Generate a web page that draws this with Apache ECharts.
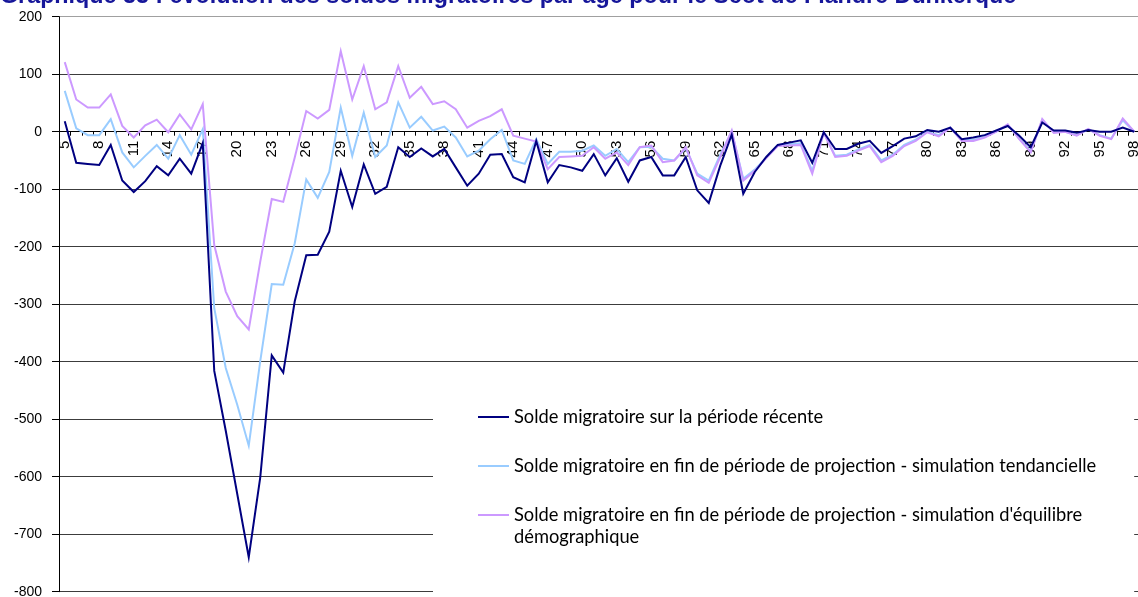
<!DOCTYPE html>
<html>
<head>
<meta charset="utf-8">
<script src="https://cdn.jsdelivr.net/npm/echarts@6/dist/echarts.min.js"></script>
<style>
  html, body { margin: 0; padding: 0; background: #ffffff; }
  #chart { width: 1138px; height: 597px; }
</style>
</head>
<body>
<div id="chart"></div>
<script>
// Title and series names
const TITLE = 'Graphique 33 : évolution des soldes migratoires par âge pour le Scot de Flandre Dunkerque';
const NAME_RECENT = 'Solde migratoire sur la période récente';
const NAME_TREND = 'Solde migratoire en fin de période de projection - simulation tendancielle';
const NAME_BALANCE = "Solde migratoire en fin de période de projection - simulation d'équilibre démographique";

// Ages (category axis)
const AGES = ['5','6','7','8','9','10','11','12','13','14','15','16','17','18','19','20','21','22','23','24',
  '25','26','27','28','29','30','31','32','33','34','35','36','37','38','39','40','41','42','43','44',
  '45','46','47','48','49','50','51','52','53','54','55','56','57','58','59','60','61','62','63','64',
  '65','66','67','68','69','70','71','72','73','74','75','76','77','78','79','80','81','82','83','84',
  '85','86','87','88','89','90','91','92','93','94','95','96','97','98'];

// Ages printed under the zero line
const AGE_LABELS = ['5','8','11','14','17','20','23','26','29','32','35','38','41','44','47','50',
  '53','56','59','62','65','68','71','74','77','80','83','86','89','92','95','98'];

// Migration balance, recent period
const RECENT = [18,-54,-56,-58,-23,-85,-105,-86,-60,-76,-47,-73,-20,-416,-520,-630,-740,-601,-389,-419,
  -295,-215,-214,-174,-68,-131,-57,-108,-96,-27,-44,-29,-43,-30,-62,-94,-73,-40,-39,-79,
  -88,-16,-88,-58,-62,-68,-39,-76,-46,-87,-50,-44,-76,-76,-44,-102,-124,-59,-5,-108,
  -70,-44,-23,-19,-15,-54,-1,-30,-30,-21,-16,-37,-25,-12,-8,3,0,7,-13,-10,
  -6,2,10,-7,-27,16,2,2,-2,3,0,0,7,0];

// Migration balance at end of projection, trend scenario
const TREND = [71,6,-6,-6,22,-36,-62,-42,-23,-47,-6,-40,4,-307,-411,-475,-546,-399,-265,-266,
  -194,-83,-115,-70,42,-42,33,-44,-24,51,7,26,2,9,-10,-43,-33,-13,3,-50,
  -56,-13,-56,-35,-35,-33,-24,-42,-30,-53,-27,-26,-47,-50,-29,-73,-85,-40,0,-82,
  -66,-45,-24,-22,-20,-68,-2,-42,-40,-31,-23,-50,-40,-23,-14,0,-6,7,-15,-14,
  -9,0,12,-12,-34,20,-1,0,-6,4,-6,-12,20,0];

// Migration balance at end of projection, demographic balance scenario
const BALANCE = [121,56,42,42,65,10,-10,11,21,-1,30,4,48,-197,-278,-321,-344,-226,-117,-122,
  -45,36,23,38,140,56,114,39,51,114,59,78,48,53,39,7,19,27,39,-7,
  -12,-17,-65,-44,-43,-42,-27,-47,-36,-58,-27,-24,-53,-50,-27,-76,-89,-44,2,-85,
  -68,-46,-25,-24,-23,-73,-2,-44,-42,-33,-25,-53,-42,-25,-16,-1,-8,7,-16,-16,
  -10,0,13,-13,-36,22,-2,0,-7,5,-7,-13,23,0];

// Value axis range
const Y_MIN = -800;
const Y_MAX = 200;
const Y_STEP = 100;

const COLOR_RECENT = '#000080';
const COLOR_TREND = '#99CCFF';
const COLOR_BALANCE = '#CC99FF';

const FONT_AXIS = '"Liberation Sans", Arial, sans-serif';
const FONT_LEGEND = 'Lato, "Open Sans", sans-serif';

// plot area in pixels
const GRID_LEFT = 59;
const GRID_RIGHT = -2;
const GRID_TOP = 16.7;
const GRID_BOTTOM = 5.3;
const CHART_H = 597;
const plotH = CHART_H - GRID_TOP - GRID_BOTTOM;
// height of the band above the zero line: the age axis is drawn along its bottom edge
const aboveZeroH = plotH * (Y_MAX - 0) / (Y_MAX - Y_MIN);

// one colour per horizontal grid line, bottom to top; the top border is lighter
const gridColors = [];
for (let v = Y_MIN; v <= Y_MAX; v += Y_STEP) gridColors.push(v === Y_MAX ? '#a0a0a0' : '#3c3c3c');

const chart = echarts.init(document.getElementById('chart'), null, { renderer: 'canvas' });

function lineSeries(name, data, color, z) {
  return {
    name: name,
    type: 'line',
    xAxisIndex: 0,
    yAxisIndex: 0,
    data: data,
    symbol: 'none',
    z: z,
    lineStyle: { color: color, width: 2, join: 'miter' },
    itemStyle: { color: color },
    emphasis: { disabled: true },
    animation: false
  };
}

// legend labels: a blank line above (and below) keeps each label's first line level with its key
function legendLabel(name) {
  if (name === NAME_BALANCE) {
    return ' \n' + name.replace(' démographique', '\ndémographique');
  }
  return ' \n' + name + '\n ';
}

// age labels, written bottom-to-top just under the zero line
function renderAgeLabel(params, api) {
  const p = api.coord([api.value(0), 0]);
  return {
    type: 'text',
    x: p[0],
    y: p[1] + 9,
    rotation: Math.PI / 2,
    silent: true,
    style: {
      text: AGE_LABELS[params.dataIndex],
      align: 'right',
      verticalAlign: 'middle',
      font: '15px "Liberation Sans", Arial, sans-serif',
      fill: '#000'
    }
  };
}

chart.setOption({
  animation: false,
  backgroundColor: '#ffffff',
  graphic: [{
    type: 'text',
    x: 0,
    y: -14.8,
    z: 100,
    style: {
      text: TITLE,
      font: 'bold 23.3px "Liberation Sans", Arial, sans-serif',
      fill: '#16169a'
    }
  }],
  grid: [
    {
      left: GRID_LEFT, right: GRID_RIGHT, top: GRID_TOP, bottom: GRID_BOTTOM,
      containLabel: false, outerBoundsMode: 'none'
    },
    {
      left: GRID_LEFT, right: GRID_RIGHT, top: GRID_TOP, height: aboveZeroH,
      containLabel: false, outerBoundsMode: 'none'
    }
  ],
  xAxis: [
    {
      type: 'category',
      gridIndex: 0,
      data: AGES,
      boundaryGap: true,
      axisLine: { show: false },
      axisTick: { show: false },
      axisLabel: { show: false },
      splitLine: { show: false }
    },
    {
      // age axis line and ticks along the zero line
      type: 'category',
      gridIndex: 1,
      data: AGES,
      boundaryGap: true,
      axisLine: { show: true, lineStyle: { color: '#000', width: 1 } },
      axisTick: { show: true, interval: 0, length: 4, lineStyle: { color: '#000' } },
      axisLabel: { show: false },
      splitLine: { show: false }
    }
  ],
  yAxis: [
    {
      type: 'value',
      gridIndex: 0,
      min: Y_MIN,
      max: Y_MAX,
      interval: Y_STEP,
      axisLine: { show: true, lineStyle: { color: '#000', width: 1 } },
      axisTick: { show: true, length: 7, lineStyle: { color: '#000' } },
      axisLabel: { margin: 17, fontFamily: FONT_AXIS, fontSize: 14, color: '#000' },
      splitLine: { show: true, lineStyle: { color: gridColors, width: 1 } }
    },
    {
      type: 'value',
      gridIndex: 1,
      show: false,
      min: 0,
      max: Y_MAX
    }
  ],
  legend: {
    orient: 'vertical',
    left: 433,
    top: 374,
    padding: [10, 38, 45, 45],
    backgroundColor: '#ffffff',
    icon: 'rect',
    itemWidth: 31,
    itemHeight: 2,
    itemGap: -17,
    selectedMode: false,
    textStyle: {
      fontFamily: FONT_LEGEND,
      fontSize: 18.3,
      color: '#000',
      lineHeight: 22
    },
    formatter: legendLabel,
    data: [NAME_RECENT, NAME_TREND, NAME_BALANCE]
  },
  series: [
    {
      type: 'custom',
      coordinateSystem: 'cartesian2d',
      xAxisIndex: 0,
      yAxisIndex: 0,
      silent: true,
      clip: false,
      z: 1,
      encode: { x: 0, y: 1 },
      data: AGE_LABELS.map(function (a) { return [a, 0]; }),
      renderItem: renderAgeLabel
    },
    lineSeries(NAME_TREND, TREND, COLOR_TREND, 2),
    lineSeries(NAME_BALANCE, BALANCE, COLOR_BALANCE, 3),
    lineSeries(NAME_RECENT, RECENT, COLOR_RECENT, 4)
  ]
});
</script>
</body>
</html>
